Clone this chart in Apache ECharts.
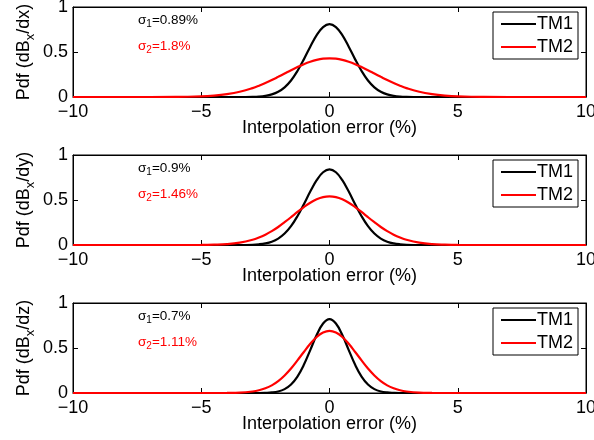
<!DOCTYPE html>
<html>
<head>
<meta charset="utf-8">
<script src="https://cdn.jsdelivr.net/npm/echarts@6/dist/echarts.min.js"></script>
<style>
  html, body { margin: 0; padding: 0; background: #fff; }
  #chart { width: 594px; height: 440px; }
</style>
</head>
<body>
<div id="chart"></div>
<script>
// interpolation error (%)
const xs = [-10, -8, -6, -5, -4.5, -4, -3.5, -3, -2.75, -2.5, -2.25, -2, -1.75, -1.5, -1.25, -1, -0.75, -0.5, -0.25,
  0, 0.25, 0.5, 0.75, 1, 1.25, 1.5, 1.75, 2, 2.25, 2.5, 2.75, 3, 3.5, 4, 4.5, 5, 6, 8, 10]

// pdf dBx/dx
const tm1Dx = [0, 0, 0, 0, 0, 0, 0, 0.002, 0.005, 0.013, 0.029, 0.058, 0.107, 0.183, 0.289, 0.418, 0.559, 0.687, 0.777,
  0.81, 0.777, 0.687, 0.559, 0.418, 0.289, 0.183, 0.107, 0.058, 0.029, 0.013, 0.005, 0.002, 0, 0, 0, 0, 0, 0, 0]
const tm2Dx = [0, 0, 0.001, 0.007, 0.016, 0.032, 0.058, 0.099, 0.125, 0.155, 0.188, 0.224, 0.261, 0.298, 0.333, 0.365, 0.392, 0.413, 0.426,
  0.43, 0.426, 0.413, 0.392, 0.365, 0.333, 0.298, 0.261, 0.224, 0.188, 0.155, 0.125, 0.099, 0.058, 0.032, 0.016, 0.007, 0.001, 0, 0]

// pdf dBx/dy
const tm1Dy = [0, 0, 0, 0, 0, 0, 0, 0.003, 0.008, 0.018, 0.037, 0.071, 0.127, 0.209, 0.32, 0.453, 0.594, 0.72, 0.808,
  0.84, 0.808, 0.72, 0.594, 0.453, 0.32, 0.209, 0.127, 0.071, 0.037, 0.018, 0.008, 0.003, 0, 0, 0, 0, 0, 0, 0]
const tm2Dy = [0, 0, 0, 0.001, 0.004, 0.01, 0.026, 0.058, 0.083, 0.115, 0.154, 0.2, 0.253, 0.309, 0.367, 0.421, 0.47, 0.508, 0.532,
  0.54, 0.532, 0.508, 0.47, 0.421, 0.367, 0.309, 0.253, 0.2, 0.154, 0.115, 0.083, 0.058, 0.026, 0.01, 0.004, 0.001, 0, 0, 0]

// pdf dBx/dz
const tm1Dz = [0, 0, 0, 0, 0, 0, 0, 0, 0, 0.002, 0.006, 0.017, 0.043, 0.094, 0.182, 0.313, 0.477, 0.644, 0.772,
  0.82, 0.772, 0.644, 0.477, 0.313, 0.182, 0.094, 0.043, 0.017, 0.006, 0.002, 0, 0, 0, 0, 0, 0, 0, 0, 0]
const tm2Dz = [0, 0, 0, 0, 0, 0.001, 0.004, 0.017, 0.03, 0.052, 0.085, 0.132, 0.195, 0.272, 0.362, 0.456, 0.547, 0.622, 0.672,
  0.69, 0.672, 0.622, 0.547, 0.456, 0.362, 0.272, 0.195, 0.132, 0.085, 0.052, 0.03, 0.017, 0.004, 0.001, 0, 0, 0, 0, 0]

const xTicks = [-10, -5, 0, 5, 10]
const yTicks = [0, 0.5, 1]
const seriesNames = ['TM1', 'TM2']
const derivs = ['dx', 'dy', 'dz']
const sigma1 = ['0.89%', '0.9%', '0.7%']
const sigma2 = ['1.8%', '1.46%', '1.11%']
const panelData = [[tm1Dx, tm2Dx], [tm1Dy, tm2Dy], [tm1Dz, tm2Dz]]

const FONT = '"Liberation Sans", Arial, Helvetica, sans-serif'
const colors = ['#000000', '#ff0000']
const gridTops = [7, 155, 303]
const gridH = 90

const chart = echarts.init(document.getElementById('chart'))

const minus = v => String(v).replace('-', '\u2212')

const grid = []
const xAxis = []
const yAxis = []
const series = []
const legend = []
const graphic = []

gridTops.forEach((top, i) => {
  grid.push({
    left: 73, right: 8, top: top, height: gridH,
    outerBoundsMode: 'none', containLabel: false,
    show: true, borderColor: '#000', borderWidth: 1, backgroundColor: '#fff'
  })
  const common = {
    gridIndex: i,
    splitLine: { show: false },
    axisLine: { show: true, onZero: false, lineStyle: { color: '#000', width: 1 } },
    axisTick: { show: true, inside: true, length: 5, lineStyle: { color: '#000' } }
  }
  xAxis.push(Object.assign({}, common, {
    type: 'value', position: 'bottom', min: xTicks[0], max: xTicks[xTicks.length - 1], interval: 5,
    name: 'Interpolation error (%)', nameLocation: 'middle', nameGap: 22, nameMoveOverlap: false,
    nameTextStyle: { color: '#000', fontSize: 18, fontFamily: FONT },
    axisLabel: { color: '#000', fontSize: 18, fontFamily: FONT, margin: 6, formatter: minus }
  }))
  xAxis.push(Object.assign({}, common, {
    type: 'value', position: 'top', min: xTicks[0], max: xTicks[xTicks.length - 1], interval: 5,
    axisLabel: { show: false }
  }))
  yAxis.push(Object.assign({}, common, {
    type: 'value', position: 'left', min: yTicks[0], max: yTicks[yTicks.length - 1], interval: 0.5,
    name: '{a|Pdf (dB}{s|x}{a|/' + derivs[i] + ')}', nameLocation: 'middle', nameGap: 36, nameMoveOverlap: false,
    nameTextStyle: {
      rich: {
        a: { color: '#000', fontSize: 18, fontFamily: FONT },
        s: { color: '#000', fontSize: 13, fontFamily: FONT, padding: [13, 0, 0, 0] }
      }
    },
    axisLabel: { color: '#000', fontSize: 18, fontFamily: FONT, margin: 5 }
  }))
  yAxis.push(Object.assign({}, common, {
    type: 'value', position: 'right', min: yTicks[0], max: yTicks[yTicks.length - 1], interval: 0.5,
    axisLabel: { show: false }
  }))

  panelData[i].forEach((ys, k) => {
    series.push({
      name: seriesNames[k],
      type: 'line',
      xAxisIndex: i * 2,
      yAxisIndex: i * 2,
      data: xs.map((x, j) => [x, ys[j]]),
      smooth: 0.4,
      showSymbol: false,
      symbol: 'none',
      animation: false,
      lineStyle: { color: colors[k], width: 2.2 },
      itemStyle: { color: colors[k] }
    })
  })

  legend.push({
    data: seriesNames,
    orient: 'vertical',
    left: 493,
    top: top + 5,
    icon: 'rect',
    itemWidth: 35,
    itemHeight: 2,
    itemGap: 5,
    padding: [3, 5, 3, 8],
    borderColor: '#000',
    borderWidth: 1,
    borderRadius: 0,
    backgroundColor: '#fff',
    selectedMode: false,
    textStyle: { color: '#000', fontSize: 18, fontFamily: FONT, padding: [0, 0, 0, -4] }
  })

  const sig = (n, val, color) => ({
    type: 'text',
    left: 138,
    top: top + (n === 1 ? 6 : 32),
    silent: true,
    style: {
      text: '{a|\u03c3}{s|' + n + '}{a|=' + val + '}',
      rich: {
        a: { fill: color, fontSize: 13.5, fontFamily: FONT },
        s: { fill: color, fontSize: 10, fontFamily: FONT, padding: [9, 0, 0, 0] }
      }
    }
  })
  graphic.push(sig(1, sigma1[i], '#000'))
  graphic.push(sig(2, sigma2[i], '#ff0000'))
})

chart.setOption({
  animation: false,
  backgroundColor: '#fff',
  grid: grid,
  xAxis: xAxis,
  yAxis: yAxis,
  legend: legend,
  graphic: graphic,
  series: series
})
</script>
</body>
</html>
